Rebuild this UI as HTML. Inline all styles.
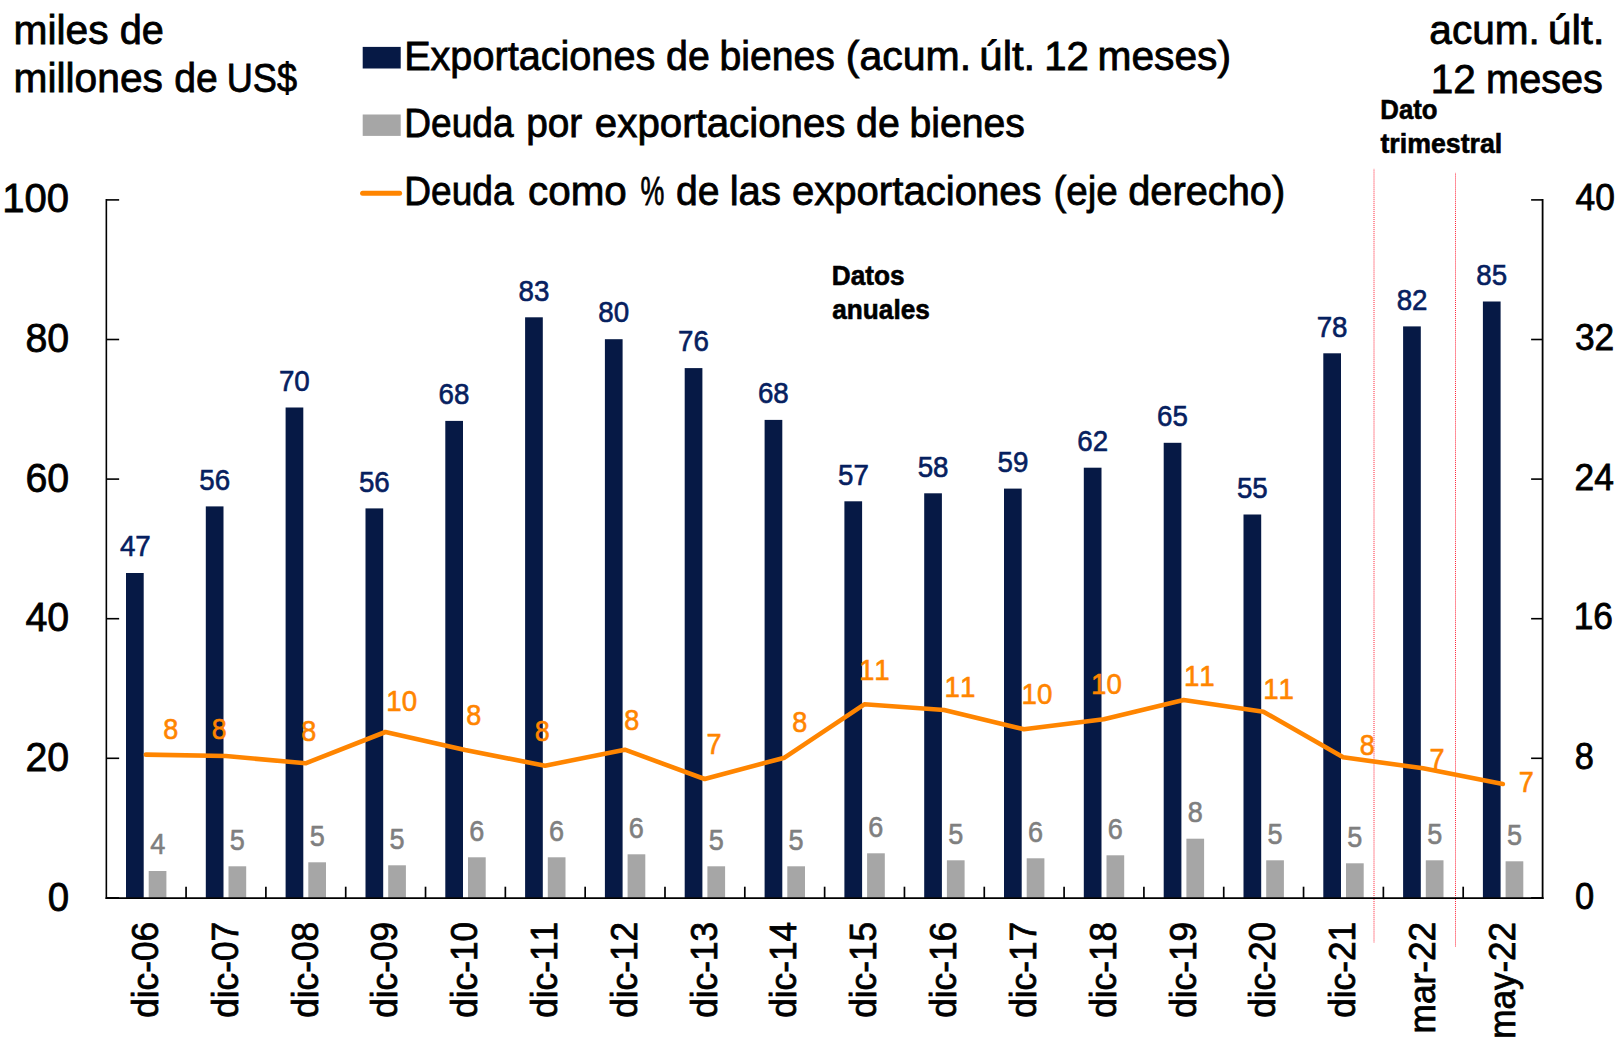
<!DOCTYPE html>
<html lang="es"><head><meta charset="utf-8"><title>Exportaciones de bienes y deuda</title>
<style>html,body{margin:0;padding:0;background:#fff;}body{width:1620px;height:1040px;overflow:hidden;}svg{display:block;}text{font-family:"Liberation Sans", Arial, sans-serif;font-kerning:none;}</style>
</head><body>
<svg width="1620" height="1040" viewBox="0 0 1620 1040">
<rect width="1620" height="1040" fill="#fff"/>
<g fill="#061945">
<rect x="126.0" y="573.0" width="17.7" height="324.9"/>
<rect x="205.8" y="506.4" width="17.7" height="391.5"/>
<rect x="285.6" y="407.5" width="17.7" height="490.4"/>
<rect x="365.5" y="508.4" width="17.7" height="389.5"/>
<rect x="445.3" y="420.9" width="17.7" height="477.0"/>
<rect x="525.1" y="317.3" width="17.7" height="580.6"/>
<rect x="604.9" y="339.2" width="17.7" height="558.7"/>
<rect x="684.7" y="368.1" width="17.7" height="529.8"/>
<rect x="764.6" y="419.9" width="17.7" height="478.0"/>
<rect x="844.4" y="501.3" width="17.7" height="396.6"/>
<rect x="924.2" y="493.3" width="17.7" height="404.6"/>
<rect x="1004.0" y="488.6" width="17.7" height="409.3"/>
<rect x="1083.8" y="467.7" width="17.7" height="430.2"/>
<rect x="1163.7" y="442.8" width="17.7" height="455.1"/>
<rect x="1243.5" y="514.5" width="17.7" height="383.4"/>
<rect x="1323.3" y="353.3" width="17.7" height="544.6"/>
<rect x="1403.1" y="326.4" width="17.7" height="571.5"/>
<rect x="1482.9" y="301.5" width="17.7" height="596.4"/>
</g>
<g fill="#a6a6a6">
<rect x="148.7" y="871.0" width="17.7" height="26.9"/>
<rect x="228.5" y="866.3" width="17.7" height="31.6"/>
<rect x="308.3" y="862.3" width="17.7" height="35.6"/>
<rect x="388.2" y="865.3" width="17.7" height="32.6"/>
<rect x="468.0" y="857.3" width="17.7" height="40.6"/>
<rect x="547.8" y="857.3" width="17.7" height="40.6"/>
<rect x="627.6" y="854.3" width="17.7" height="43.6"/>
<rect x="707.4" y="866.3" width="17.7" height="31.6"/>
<rect x="787.3" y="866.3" width="17.7" height="31.6"/>
<rect x="867.1" y="853.3" width="17.7" height="44.6"/>
<rect x="946.9" y="860.3" width="17.7" height="37.6"/>
<rect x="1026.7" y="858.3" width="17.7" height="39.6"/>
<rect x="1106.5" y="855.3" width="17.7" height="42.6"/>
<rect x="1186.4" y="838.7" width="17.7" height="59.2"/>
<rect x="1266.2" y="860.3" width="17.7" height="37.6"/>
<rect x="1346.0" y="863.3" width="17.7" height="34.6"/>
<rect x="1425.8" y="860.3" width="17.7" height="37.6"/>
<rect x="1505.6" y="861.3" width="17.7" height="36.6"/>
</g>
<g fill="none" stroke-width="1" stroke="#ff2236" stroke-dasharray="1.012 1.012">
<path stroke-dashoffset="0.5" d="M1374 168.9 V942.4"/>
<path stroke-dashoffset="0.5" d="M1455.5 172.9 V946.5"/>
</g>
<g stroke="#000" fill="none">
<path stroke-width="1.6" d="M106.35 199.10 V898.90"/>
<path stroke-width="1.8" d="M1542.60 199.10 V898.90"/>
<path stroke-width="1.7" d="M105.55 898.15 H1543.60"/>
<g stroke-width="1.6">
<path d="M106.35 897.90 h12.8"/>
<path d="M1542.60 897.90 h-11.5"/>
<path d="M106.35 758.30 h12.8"/>
<path d="M1542.60 758.30 h-11.5"/>
<path d="M106.35 618.70 h12.8"/>
<path d="M1542.60 618.70 h-11.5"/>
<path d="M106.35 479.10 h12.8"/>
<path d="M1542.60 479.10 h-11.5"/>
<path d="M106.35 339.50 h12.8"/>
<path d="M1542.60 339.50 h-11.5"/>
<path d="M106.35 199.90 h12.8"/>
<path d="M1542.60 199.90 h-11.5"/>
<path stroke-width="1.7" d="M186.07 897.90 v-11.2"/>
<path stroke-width="1.7" d="M265.89 897.90 v-11.2"/>
<path stroke-width="1.7" d="M345.71 897.90 v-11.2"/>
<path stroke-width="1.7" d="M425.53 897.90 v-11.2"/>
<path stroke-width="1.7" d="M505.35 897.90 v-11.2"/>
<path stroke-width="1.7" d="M585.17 897.90 v-11.2"/>
<path stroke-width="1.7" d="M664.99 897.90 v-11.2"/>
<path stroke-width="1.7" d="M744.81 897.90 v-11.2"/>
<path stroke-width="1.7" d="M824.63 897.90 v-11.2"/>
<path stroke-width="1.7" d="M904.45 897.90 v-11.2"/>
<path stroke-width="1.7" d="M984.27 897.90 v-11.2"/>
<path stroke-width="1.7" d="M1064.09 897.90 v-11.2"/>
<path stroke-width="1.7" d="M1143.91 897.90 v-11.2"/>
<path stroke-width="1.7" d="M1223.73 897.90 v-11.2"/>
<path stroke-width="1.7" d="M1303.55 897.90 v-11.2"/>
<path stroke-width="1.7" d="M1383.37 897.90 v-11.2"/>
<path stroke-width="1.7" d="M1463.19 897.90 v-11.2"/>
</g></g>
<polyline points="145.9,754.6 225.7,756.0 305.5,763.3 385.4,732.0 465.2,750.0 545.0,765.7 624.8,749.7 704.6,779.0 784.5,757.7 864.3,704.3 944.1,710.0 1023.9,729.3 1103.8,719.2 1183.6,700.0 1263.4,711.7 1343.2,757.3 1423.0,768.3 1502.8,784.0" fill="none" stroke="#ff8500" stroke-width="4.6" stroke-linejoin="round" stroke-linecap="round"/>
<text transform="translate(119.88,556.20) scale(0.9691,1)" font-size="28.63" fill="#06205f" stroke="#06205f" stroke-width="0.60">47</text>
<text transform="translate(199.29,489.60) scale(0.9689,1)" font-size="28.63" fill="#06205f" stroke="#06205f" stroke-width="0.60">56</text>
<text transform="translate(278.90,390.70) scale(0.9688,1)" font-size="28.63" fill="#06205f" stroke="#06205f" stroke-width="0.60">70</text>
<text transform="translate(358.93,491.60) scale(0.9689,1)" font-size="28.63" fill="#06205f" stroke="#06205f" stroke-width="0.60">56</text>
<text transform="translate(438.61,404.10) scale(0.9687,1)" font-size="28.63" fill="#06205f" stroke="#06205f" stroke-width="0.60">68</text>
<text transform="translate(518.50,300.50) scale(0.9688,1)" font-size="28.63" fill="#06205f" stroke="#06205f" stroke-width="0.60">83</text>
<text transform="translate(598.25,322.40) scale(0.9689,1)" font-size="28.63" fill="#06205f" stroke="#06205f" stroke-width="0.60">80</text>
<text transform="translate(678.07,351.30) scale(0.9687,1)" font-size="28.63" fill="#06205f" stroke="#06205f" stroke-width="0.60">76</text>
<text transform="translate(757.89,403.10) scale(0.9687,1)" font-size="28.63" fill="#06205f" stroke="#06205f" stroke-width="0.60">68</text>
<text transform="translate(837.99,484.50) scale(0.9687,1)" font-size="28.63" fill="#06205f" stroke="#06205f" stroke-width="0.60">57</text>
<text transform="translate(917.67,476.50) scale(0.9689,1)" font-size="28.63" fill="#06205f" stroke="#06205f" stroke-width="0.60">58</text>
<text transform="translate(997.56,471.80) scale(0.9688,1)" font-size="28.63" fill="#06205f" stroke="#06205f" stroke-width="0.60">59</text>
<text transform="translate(1077.31,450.90) scale(0.9685,1)" font-size="28.63" fill="#06205f" stroke="#06205f" stroke-width="0.60">62</text>
<text transform="translate(1156.99,426.00) scale(0.9687,1)" font-size="28.63" fill="#06205f" stroke="#06205f" stroke-width="0.60">65</text>
<text transform="translate(1236.95,497.70) scale(0.9689,1)" font-size="28.63" fill="#06205f" stroke="#06205f" stroke-width="0.60">55</text>
<text transform="translate(1316.63,336.50) scale(0.9687,1)" font-size="28.63" fill="#06205f" stroke="#06205f" stroke-width="0.60">78</text>
<text transform="translate(1396.66,309.60) scale(0.9686,1)" font-size="28.63" fill="#06205f" stroke="#06205f" stroke-width="0.60">82</text>
<text transform="translate(1476.34,284.70) scale(0.9688,1)" font-size="28.63" fill="#06205f" stroke="#06205f" stroke-width="0.60">85</text>
<text transform="translate(150.17,854.40) scale(0.9477,1)" font-size="28.63" fill="#7f7f7f" stroke="#7f7f7f" stroke-width="0.60">4</text>
<text transform="translate(229.87,849.70) scale(0.9451,1)" font-size="28.63" fill="#7f7f7f" stroke="#7f7f7f" stroke-width="0.60">5</text>
<text transform="translate(309.69,845.70) scale(0.9451,1)" font-size="28.63" fill="#7f7f7f" stroke="#7f7f7f" stroke-width="0.60">5</text>
<text transform="translate(389.51,848.70) scale(0.9451,1)" font-size="28.63" fill="#7f7f7f" stroke="#7f7f7f" stroke-width="0.60">5</text>
<text transform="translate(469.20,840.70) scale(0.9442,1)" font-size="28.63" fill="#7f7f7f" stroke="#7f7f7f" stroke-width="0.60">6</text>
<text transform="translate(549.02,840.70) scale(0.9442,1)" font-size="28.63" fill="#7f7f7f" stroke="#7f7f7f" stroke-width="0.60">6</text>
<text transform="translate(628.84,837.70) scale(0.9442,1)" font-size="28.63" fill="#7f7f7f" stroke="#7f7f7f" stroke-width="0.60">6</text>
<text transform="translate(708.79,849.70) scale(0.9451,1)" font-size="28.63" fill="#7f7f7f" stroke="#7f7f7f" stroke-width="0.60">5</text>
<text transform="translate(788.61,849.70) scale(0.9451,1)" font-size="28.63" fill="#7f7f7f" stroke="#7f7f7f" stroke-width="0.60">5</text>
<text transform="translate(868.30,836.70) scale(0.9442,1)" font-size="28.63" fill="#7f7f7f" stroke="#7f7f7f" stroke-width="0.60">6</text>
<text transform="translate(948.25,843.70) scale(0.9451,1)" font-size="28.63" fill="#7f7f7f" stroke="#7f7f7f" stroke-width="0.60">5</text>
<text transform="translate(1027.94,841.70) scale(0.9442,1)" font-size="28.63" fill="#7f7f7f" stroke="#7f7f7f" stroke-width="0.60">6</text>
<text transform="translate(1107.76,838.70) scale(0.9442,1)" font-size="28.63" fill="#7f7f7f" stroke="#7f7f7f" stroke-width="0.60">6</text>
<text transform="translate(1187.65,822.10) scale(0.9447,1)" font-size="28.63" fill="#7f7f7f" stroke="#7f7f7f" stroke-width="0.60">8</text>
<text transform="translate(1267.53,843.70) scale(0.9451,1)" font-size="28.63" fill="#7f7f7f" stroke="#7f7f7f" stroke-width="0.60">5</text>
<text transform="translate(1347.35,846.70) scale(0.9451,1)" font-size="28.63" fill="#7f7f7f" stroke="#7f7f7f" stroke-width="0.60">5</text>
<text transform="translate(1427.17,843.70) scale(0.9451,1)" font-size="28.63" fill="#7f7f7f" stroke="#7f7f7f" stroke-width="0.60">5</text>
<text transform="translate(1506.99,844.70) scale(0.9451,1)" font-size="28.63" fill="#7f7f7f" stroke="#7f7f7f" stroke-width="0.60">5</text>
<text transform="translate(163.23,738.60) scale(0.9447,1)" font-size="28.63" fill="#ff8500" stroke="#ff8500" stroke-width="0.60">8</text>
<text transform="translate(211.83,738.60) scale(0.9447,1)" font-size="28.63" fill="#ff8500" stroke="#ff8500" stroke-width="0.60">8</text>
<text transform="translate(301.23,740.70) scale(0.9447,1)" font-size="28.63" fill="#ff8500" stroke="#ff8500" stroke-width="0.60">8</text>
<text transform="translate(386.36,710.70) scale(0.9683,1)" font-size="28.63" fill="#ff8500" stroke="#ff8500" stroke-width="0.60">10</text>
<text transform="translate(466.23,725.40) scale(0.9447,1)" font-size="28.63" fill="#ff8500" stroke="#ff8500" stroke-width="0.60">8</text>
<text transform="translate(534.63,741.40) scale(0.9447,1)" font-size="28.63" fill="#ff8500" stroke="#ff8500" stroke-width="0.60">8</text>
<text transform="translate(624.23,729.70) scale(0.9447,1)" font-size="28.63" fill="#ff8500" stroke="#ff8500" stroke-width="0.60">8</text>
<text transform="translate(706.51,754.00) scale(0.9432,1)" font-size="28.63" fill="#ff8500" stroke="#ff8500" stroke-width="0.60">7</text>
<text transform="translate(792.13,732.00) scale(0.9447,1)" font-size="28.63" fill="#ff8500" stroke="#ff8500" stroke-width="0.60">8</text>
<text transform="translate(858.90,679.70) scale(0.9681,1)" font-size="28.63" fill="#ff8500" stroke="#ff8500" stroke-width="0.60">11</text>
<text transform="translate(944.50,697.40) scale(0.9681,1)" font-size="28.63" fill="#ff8500" stroke="#ff8500" stroke-width="0.60">11</text>
<text transform="translate(1021.56,703.70) scale(0.9683,1)" font-size="28.63" fill="#ff8500" stroke="#ff8500" stroke-width="0.60">10</text>
<text transform="translate(1091.06,694.00) scale(0.9683,1)" font-size="28.63" fill="#ff8500" stroke="#ff8500" stroke-width="0.60">10</text>
<text transform="translate(1183.90,686.40) scale(0.9681,1)" font-size="28.63" fill="#ff8500" stroke="#ff8500" stroke-width="0.60">11</text>
<text transform="translate(1263.20,699.00) scale(0.9681,1)" font-size="28.63" fill="#ff8500" stroke="#ff8500" stroke-width="0.60">11</text>
<text transform="translate(1359.63,755.40) scale(0.9447,1)" font-size="28.63" fill="#ff8500" stroke="#ff8500" stroke-width="0.60">8</text>
<text transform="translate(1429.51,769.00) scale(0.9432,1)" font-size="28.63" fill="#ff8500" stroke="#ff8500" stroke-width="0.60">7</text>
<text transform="translate(1518.81,792.40) scale(0.9432,1)" font-size="28.63" fill="#ff8500" stroke="#ff8500" stroke-width="0.60">7</text>
<text transform="translate(2.20,211.60) scale(0.9811,1)" font-size="40.84" fill="#000" stroke="#000" stroke-width="0.80">100</text>
<text transform="translate(25.42,352.10) scale(0.9632,1)" font-size="40.84" fill="#000" stroke="#000" stroke-width="0.80">80</text>
<text transform="translate(25.42,491.70) scale(0.9631,1)" font-size="40.84" fill="#000" stroke="#000" stroke-width="0.80">60</text>
<text transform="translate(25.40,631.30) scale(0.9636,1)" font-size="40.84" fill="#000" stroke="#000" stroke-width="0.80">40</text>
<text transform="translate(25.42,770.90) scale(0.9631,1)" font-size="40.84" fill="#000" stroke="#000" stroke-width="0.80">20</text>
<text transform="translate(47.71,910.50) scale(0.9414,1)" font-size="40.84" fill="#000" stroke="#000" stroke-width="0.80">0</text>
<text transform="translate(1575.59,210.20) scale(0.9698,1)" font-size="36.44" fill="#000" stroke="#000" stroke-width="0.80">40</text>
<text transform="translate(1574.89,349.88) scale(0.9691,1)" font-size="36.44" fill="#000" stroke="#000" stroke-width="0.80">32</text>
<text transform="translate(1574.53,489.56) scale(0.9693,1)" font-size="36.44" fill="#000" stroke="#000" stroke-width="0.80">24</text>
<text transform="translate(1573.65,629.24) scale(0.9686,1)" font-size="36.44" fill="#000" stroke="#000" stroke-width="0.80">16</text>
<text transform="translate(1574.75,768.92) scale(0.9439,1)" font-size="36.44" fill="#000" stroke="#000" stroke-width="0.80">8</text>
<text transform="translate(1574.92,908.60) scale(0.9449,1)" font-size="36.44" fill="#000" stroke="#000" stroke-width="0.80">0</text>
<text transform="translate(157.91,1017.81) rotate(-90) scale(0.9565,1)" font-size="36.84" fill="#000" stroke="#000" stroke-width="0.80">dic-06</text>
<text transform="translate(237.73,1017.81) rotate(-90) scale(0.9565,1)" font-size="36.84" fill="#000" stroke="#000" stroke-width="0.80">dic-07</text>
<text transform="translate(317.55,1017.81) rotate(-90) scale(0.9565,1)" font-size="36.84" fill="#000" stroke="#000" stroke-width="0.80">dic-08</text>
<text transform="translate(397.37,1017.81) rotate(-90) scale(0.9565,1)" font-size="36.84" fill="#000" stroke="#000" stroke-width="0.80">dic-09</text>
<text transform="translate(477.19,1017.81) rotate(-90) scale(0.9565,1)" font-size="36.84" fill="#000" stroke="#000" stroke-width="0.80">dic-10</text>
<text transform="translate(557.01,1017.81) rotate(-90) scale(0.9565,1)" font-size="36.84" fill="#000" stroke="#000" stroke-width="0.80">dic-11</text>
<text transform="translate(636.83,1017.81) rotate(-90) scale(0.9565,1)" font-size="36.84" fill="#000" stroke="#000" stroke-width="0.80">dic-12</text>
<text transform="translate(716.65,1017.81) rotate(-90) scale(0.9565,1)" font-size="36.84" fill="#000" stroke="#000" stroke-width="0.80">dic-13</text>
<text transform="translate(796.47,1017.81) rotate(-90) scale(0.9565,1)" font-size="36.84" fill="#000" stroke="#000" stroke-width="0.80">dic-14</text>
<text transform="translate(876.29,1017.81) rotate(-90) scale(0.9565,1)" font-size="36.84" fill="#000" stroke="#000" stroke-width="0.80">dic-15</text>
<text transform="translate(956.11,1017.81) rotate(-90) scale(0.9565,1)" font-size="36.84" fill="#000" stroke="#000" stroke-width="0.80">dic-16</text>
<text transform="translate(1035.93,1017.81) rotate(-90) scale(0.9565,1)" font-size="36.84" fill="#000" stroke="#000" stroke-width="0.80">dic-17</text>
<text transform="translate(1115.75,1017.81) rotate(-90) scale(0.9565,1)" font-size="36.84" fill="#000" stroke="#000" stroke-width="0.80">dic-18</text>
<text transform="translate(1195.57,1017.81) rotate(-90) scale(0.9565,1)" font-size="36.84" fill="#000" stroke="#000" stroke-width="0.80">dic-19</text>
<text transform="translate(1275.39,1017.81) rotate(-90) scale(0.9565,1)" font-size="36.84" fill="#000" stroke="#000" stroke-width="0.80">dic-20</text>
<text transform="translate(1355.21,1017.81) rotate(-90) scale(0.9565,1)" font-size="36.84" fill="#000" stroke="#000" stroke-width="0.80">dic-21</text>
<text transform="translate(1435.03,1033.49) rotate(-90) scale(0.9577,1)" font-size="36.84" fill="#000" stroke="#000" stroke-width="0.80">mar-22</text>
<text transform="translate(1514.85,1038.78) rotate(-90) scale(0.9518,1)" font-size="36.84" fill="#000" stroke="#000" stroke-width="0.80">may-22</text>
<text y="44.40" font-size="39.84" fill="#000" stroke="#000" stroke-width="0.80"><tspan x="13.55" textLength="95.12" lengthAdjust="spacingAndGlyphs">miles</tspan> <tspan x="119.71" textLength="44.17" lengthAdjust="spacingAndGlyphs">de</tspan></text>
<text y="92.00" font-size="39.84" fill="#000" stroke="#000" stroke-width="0.80"><tspan x="13.55" textLength="149.40" lengthAdjust="spacingAndGlyphs">millones</tspan> <tspan x="174.24" textLength="43.52" lengthAdjust="spacingAndGlyphs">de</tspan> <tspan x="226.79" textLength="70.26" lengthAdjust="spacingAndGlyphs">US$</tspan></text>
<text y="44.40" font-size="39.84" fill="#000" stroke="#000" stroke-width="0.80"><tspan x="1429.38" textLength="110.51" lengthAdjust="spacingAndGlyphs">acum.</tspan> <tspan x="1547.73" textLength="56.88" lengthAdjust="spacingAndGlyphs">últ.</tspan></text>
<text y="92.60" font-size="39.84" fill="#000" stroke="#000" stroke-width="0.80"><tspan x="1430.66" textLength="45.06" lengthAdjust="spacingAndGlyphs">12</tspan> <tspan x="1486.12" textLength="116.78" lengthAdjust="spacingAndGlyphs">meses</tspan></text>
<rect x="362.7" y="46.9" width="38" height="21.6" fill="#061945"/>
<rect x="362.7" y="114.5" width="38" height="21.4" fill="#a6a6a6"/>
<path d="M362.6 193.3 H399.6" stroke="#ff8500" stroke-width="5" stroke-linecap="round" fill="none"/>
<text y="70.20" font-size="39.84" fill="#000" stroke="#000" stroke-width="0.80"><tspan x="404.13" textLength="251.14" lengthAdjust="spacingAndGlyphs">Exportaciones</tspan> <tspan x="666.03" textLength="43.73" lengthAdjust="spacingAndGlyphs">de</tspan> <tspan x="719.55" textLength="115.39" lengthAdjust="spacingAndGlyphs">bienes</tspan> <tspan x="845.74" textLength="125.41" lengthAdjust="spacingAndGlyphs">(acum.</tspan> <tspan x="979.38" textLength="55.86" lengthAdjust="spacingAndGlyphs">últ.</tspan> <tspan x="1044.29" textLength="44.61" lengthAdjust="spacingAndGlyphs">12</tspan> <tspan x="1097.45" textLength="133.64" lengthAdjust="spacingAndGlyphs">meses)</tspan></text>
<text y="137.40" font-size="39.84" fill="#000" stroke="#000" stroke-width="0.80"><tspan x="404.33" textLength="109.23" lengthAdjust="spacingAndGlyphs">Deuda</tspan> <tspan x="526.18" textLength="56.12" lengthAdjust="spacingAndGlyphs">por</tspan> <tspan x="594.89" textLength="250.57" lengthAdjust="spacingAndGlyphs">exportaciones</tspan> <tspan x="856.03" textLength="43.73" lengthAdjust="spacingAndGlyphs">de</tspan> <tspan x="909.55" textLength="115.39" lengthAdjust="spacingAndGlyphs">bienes</tspan></text>
<text y="205.40" font-size="39.84" fill="#000" stroke="#000" stroke-width="0.80"><tspan x="404.33" textLength="109.23" lengthAdjust="spacingAndGlyphs">Deuda</tspan> <tspan x="527.98" textLength="98.85" lengthAdjust="spacingAndGlyphs">como</tspan> <tspan x="640.56" textLength="23.85" lengthAdjust="spacingAndGlyphs">%</tspan> <tspan x="676.04" textLength="43.52" lengthAdjust="spacingAndGlyphs">de</tspan> <tspan x="729.69" textLength="51.24" lengthAdjust="spacingAndGlyphs">las</tspan> <tspan x="791.90" textLength="249.76" lengthAdjust="spacingAndGlyphs">exportaciones</tspan> <tspan x="1053.38" textLength="64.46" lengthAdjust="spacingAndGlyphs">(eje</tspan> <tspan x="1128.21" textLength="156.95" lengthAdjust="spacingAndGlyphs">derecho)</tspan></text>
<text transform="translate(831.80,285.40) scale(0.9580,1)" font-size="27.33" fill="#000" font-weight="bold" stroke="#000" stroke-width="0.60">Datos</text>
<text transform="translate(832.31,319.30) scale(0.9581,1)" font-size="27.33" fill="#000" font-weight="bold" stroke="#000" stroke-width="0.60">anuales</text>
<text transform="translate(1380.33,118.50) scale(0.9429,1)" font-size="27.33" fill="#000" font-weight="bold" stroke="#000" stroke-width="0.60">Dato</text>
<text transform="translate(1380.43,152.60) scale(0.9785,1)" font-size="27.33" fill="#000" font-weight="bold" stroke="#000" stroke-width="0.60">trimestral</text>
</svg>
</body></html>
